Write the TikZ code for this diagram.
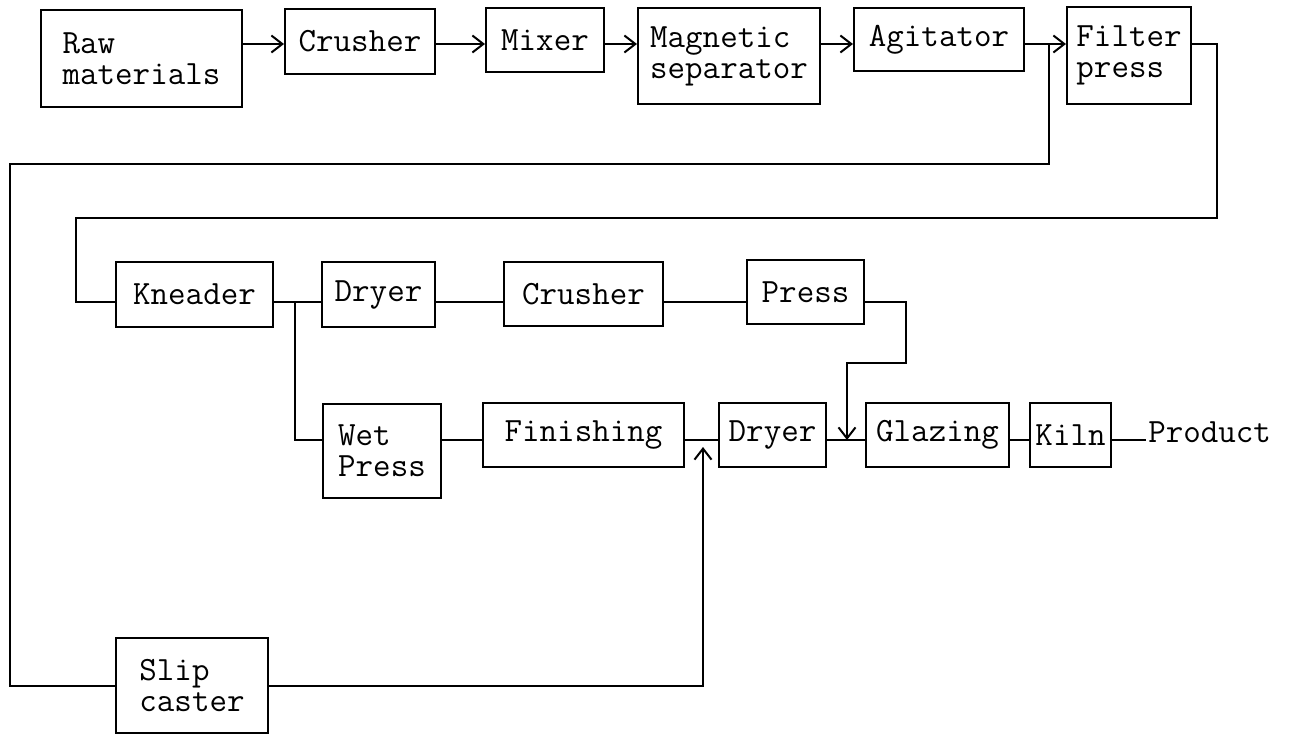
\documentclass[tikz,border=0pt]{standalone}
\usepackage{fontspec}
\usetikzlibrary{arrows.meta}

\begin{document}
\begin{tikzpicture}[
    x=0.5pt,
    y=-0.5pt,
    >={Straight Barb[length=5.5pt,width=8.5pt]},
    box/.style={draw, line width=1pt, align=left, inner sep=0pt, font=\ttfamily\fontsize{17pt}{15.5pt}\selectfont},
    flow/.style={line width=1pt},
    arr/.style={->, line width=1pt}
]
\useasboundingbox (0,0) rectangle (1291,734);
% top row
\node[box, minimum width=100.5pt, minimum height=48.5pt] (raw) at (141.5,58.5) {Raw\\materials};
\node[box, minimum width=75pt, minimum height=32.5pt] (crusherA) at (360,41.5) {Crusher};
\node[box, minimum width=59pt, minimum height=32pt] (mixer) at (545,40) {Mixer};
\node[box, minimum width=91pt, minimum height=48pt] (magsep) at (729,56) {Magnetic\\separator};
\node[box, minimum width=85pt, minimum height=31.5pt] (agitator) at (939,39.5) {Agitator};
\node[box, minimum width=62pt, minimum height=48.5pt] (filter) at (1129,55.5) {Filter\\press};
% dry branch
\node[box, minimum width=78.5pt, minimum height=32.5pt] (kneader) at (194.5,294.5) {Kneader};
\node[box, minimum width=56.5pt, minimum height=32.5pt] (dryerA) at (378.5,294.5) {Dryer};
\node[box, minimum width=79.5pt, minimum height=32pt] (crusherB) at (583.5,294) {Crusher};
\node[box, minimum width=58.5pt, minimum height=32pt] (press) at (805.5,292) {Press};
% wet branch
\node[box, minimum width=59pt, minimum height=47pt] (wetpress) at (382,451) {Wet\\Press};
\node[box, minimum width=100.5pt, minimum height=32pt] (finishing) at (583.5,435) {Finishing};
\node[box, minimum width=53.5pt, minimum height=32pt] (dryerB) at (772.5,435) {Dryer};
\node[box, minimum width=71.5pt, minimum height=32pt] (glazing) at (937.5,435) {Glazing};
\node[box, minimum width=40.5pt, minimum height=32pt] (kiln) at (1070.5,435) {Kiln};
\node[font=\ttfamily\fontsize{17pt}{15.5pt}\selectfont, anchor=west, inner sep=1pt] (product) at (1146,432) {Product};
% casting branch
\node[box, minimum width=76pt, minimum height=47.5pt] (slip) at (192,685.5) {Slip\\caster};

\coordinate (r1) at (0,44);
\coordinate (r2) at (0,302);
\coordinate (r3) at (0,440);
\coordinate (split) at (1049,44);
\coordinate (backtop) at (1049,164);
\coordinate (backleft) at (10,686);
\coordinate (castin) at (703,447);
\coordinate (fpright) at (1217,218);
\coordinate (kneadleft) at (76,302);
\coordinate (kbranch) at (295,302);
\coordinate (pressdrop) at (906,363);
\coordinate (glazein) at (847,440);

\draw[arr] (raw.east |- r1) -- (crusherA.west |- r1);
\draw[arr] (crusherA.east |- r1) -- (mixer.west |- r1);
\draw[arr] (mixer.east |- r1) -- (magsep.west |- r1);
\draw[arr] (magsep.east |- r1) -- (agitator.west |- r1);
\draw[arr] (agitator.east |- r1) -- (filter.west |- r1);

\draw[flow] (filter.east |- r1) -| (fpright) -| (kneadleft) -- (kneader.west |- r2);
\draw[flow] (split) -- (backtop) -| (backleft) -- (slip.west |- backleft);
\draw[arr] (slip.east |- backleft) -| (castin);

\draw[flow] (kneader.east |- r2) -- (dryerA.west |- r2);
\draw[flow] (kbranch) |- (wetpress.west |- r3);
\draw[flow] (dryerA.east |- r2) -- (crusherB.west |- r2);
\draw[flow] (crusherB.east |- r2) -- (press.west |- r2);
\draw[arr] (press.east |- r2) -| (pressdrop) -| (glazein);

\draw[flow] (wetpress.east |- r3) -- (finishing.west |- r3);
\draw[flow] (finishing.east |- r3) -- (dryerB.west |- r3);
\draw[flow] (dryerB.east |- r3) -- (glazing.west |- r3);
\draw[flow] (glazing.east |- r3) -- (kiln.west |- r3);
\draw[flow] (kiln.east |- r3) -- (product.west |- r3);
\end{tikzpicture}
\end{document}
